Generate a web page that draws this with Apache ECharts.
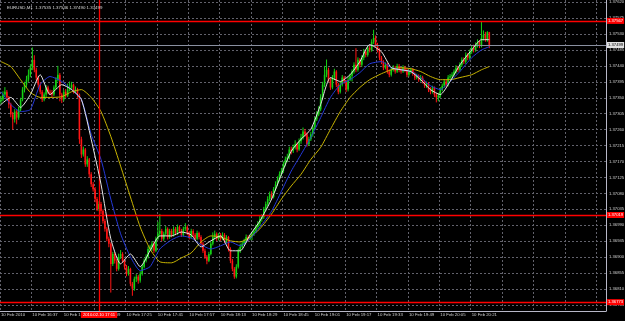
<!DOCTYPE html>
<html><head><meta charset="utf-8">
<script src="https://cdn.jsdelivr.net/npm/echarts@6/dist/echarts.min.js"></script>
<style>html,body{margin:0;padding:0;background:#000;}#c{width:625px;height:321px;}</style>
</head><body><div id="c"></div>
<script>
const symbolName = 'EURUSD,M1';
const timeLabels = ['10 Feb 2010','10 Feb 16:37','10 Feb 16:53','10 Feb 17:09','10 Feb 17:25','10 Feb 17:41','10 Feb 17:57','10 Feb 18:13','10 Feb 18:29','10 Feb 18:45','10 Feb 19:01','10 Feb 19:17','10 Feb 19:33','10 Feb 19:49','10 Feb 20:05','10 Feb 20:21'];
const priceTicks = [1.36765,1.36810,1.36855,1.36900,1.36945,1.36990,1.37035,1.37080,1.37125,1.37170,1.37215,1.37260,1.37305,1.37350,1.37395,1.37440,1.37485,1.37530,1.37575,1.37620];

const opens = [
1.37340,1.37345,1.37359,1.37367,1.37351,1.37331,1.37303,1.37289,1.37311,1.37294,
1.37317,1.37345,1.37373,1.37387,1.37401,1.37415,1.37435,1.37457,1.37429,1.37407,
1.37387,1.37367,1.37345,1.37359,1.37379,1.37367,1.37364,1.37359,1.37379,1.37401,
1.37415,1.37359,1.37345,1.37367,1.37356,1.37373,1.37379,1.37387,1.37367,1.37373,
1.37359,1.37233,1.37190,1.37204,1.37162,1.37176,1.37134,1.37106,1.37092,1.37064,
1.37036,1.37050,1.37030,1.37002,1.36980,1.36952,1.36938,1.36881,1.36909,1.36890,
1.36867,1.36901,1.36909,1.36890,1.36873,1.36853,1.36867,1.36825,1.36811,1.36839,
1.36845,1.36834,1.36853,1.36873,1.36890,1.36901,1.36923,1.36930,1.36938,1.36918,
1.36952,1.36966,1.36974,1.36952,1.36966,1.36980,1.36957,1.36974,1.36963,1.36980,
1.36968,1.36985,1.36974,1.36963,1.36980,1.36985,1.36968,1.36957,1.36974,1.36963,
1.36952,1.36968,1.36957,1.36938,1.36918,1.36901,1.36890,1.36909,1.36938,1.36957,
1.36966,1.36952,1.36963,1.36952,1.36963,1.36946,1.36957,1.36923,1.36890,1.36867,
1.36845,1.36873,1.36918,1.36929,1.36938,1.36946,1.36957,1.36952,1.36958,1.36966,
1.36974,1.36985,1.36994,1.37008,1.37013,1.37036,1.37050,1.37064,1.37078,1.37070,
1.37092,1.37106,1.37120,1.37134,1.37143,1.37162,1.37176,1.37182,1.37204,1.37199,
1.37210,1.37219,1.37204,1.37227,1.37238,1.37255,1.37247,1.37219,1.37233,1.37247,
1.37266,1.37289,1.37303,1.37317,1.37351,1.37387,1.37415,1.37429,1.37401,1.37379,
1.37407,1.37424,1.37387,1.37367,1.37387,1.37407,1.37396,1.37373,1.37401,1.37412,
1.37424,1.37443,1.37429,1.37457,1.37443,1.37463,1.37480,1.37471,1.37491,1.37485,
1.37508,1.37519,1.37499,1.37485,1.37463,1.37452,1.37435,1.37443,1.37424,1.37415,
1.37429,1.37435,1.37424,1.37440,1.37429,1.37424,1.37435,1.37429,1.37415,1.37424,
1.37429,1.37418,1.37407,1.37412,1.37401,1.37407,1.37396,1.37384,1.37390,1.37373,
1.37367,1.37379,1.37359,1.37351,1.37356,1.37373,1.37384,1.37396,1.37387,1.37407,
1.37411,1.37415,1.37424,1.37435,1.37429,1.37443,1.37457,1.37452,1.37471,1.37463,
1.37480,1.37491,1.37485,1.37499,1.37508,1.37497,1.37519,1.37528,1.37514,1.37535];

const highs = [
1.37355,1.37368,1.37380,1.37372,1.37355,1.37336,1.37310,1.37318,1.37315,1.37325,
1.37350,1.37380,1.37395,1.37412,1.37430,1.37445,1.37492,1.37470,1.37435,1.37412,
1.37393,1.37372,1.37365,1.37386,1.37384,1.37373,1.37372,1.37385,1.37408,1.37440,
1.37420,1.37364,1.37372,1.37375,1.37390,1.37396,1.37395,1.37390,1.37382,1.37378,
1.37362,1.37240,1.37212,1.37208,1.37185,1.37180,1.37140,1.37112,1.37098,1.37070,
1.37058,1.37056,1.37035,1.37008,1.36985,1.36958,1.36942,1.36915,1.36914,1.36895,
1.36910,1.36920,1.36914,1.36895,1.36878,1.36875,1.36870,1.36830,1.36845,1.36852,
1.36850,1.36860,1.36880,1.36896,1.36908,1.36930,1.36935,1.36945,1.36943,1.36958,
1.37000,1.37022,1.36980,1.36972,1.36988,1.36984,1.36980,1.36980,1.36987,1.36985,
1.36992,1.36990,1.36980,1.36986,1.36996,1.36990,1.36974,1.36980,1.36979,1.36968,
1.36975,1.36972,1.36962,1.36943,1.36924,1.36906,1.36915,1.36944,1.36970,1.36975,
1.36970,1.36968,1.36968,1.36970,1.36968,1.36962,1.36960,1.36928,1.36895,1.36872,
1.36880,1.36924,1.36938,1.36946,1.36952,1.36964,1.36962,1.36964,1.36972,1.36980,
1.36992,1.37002,1.37016,1.37022,1.37042,1.37057,1.37072,1.37085,1.37086,1.37098,
1.37114,1.37128,1.37142,1.37152,1.37170,1.37184,1.37192,1.37212,1.37212,1.37218,
1.37230,1.37224,1.37235,1.37248,1.37266,1.37262,1.37252,1.37240,1.37254,1.37272,
1.37296,1.37312,1.37326,1.37360,1.37395,1.37440,1.37458,1.37435,1.37406,1.37414,
1.37432,1.37428,1.37392,1.37394,1.37414,1.37412,1.37400,1.37408,1.37418,1.37430,
1.37450,1.37490,1.37464,1.37462,1.37470,1.37488,1.37486,1.37498,1.37500,1.37515,
1.37542,1.37526,1.37505,1.37490,1.37468,1.37456,1.37450,1.37448,1.37430,1.37436,
1.37442,1.37440,1.37446,1.37445,1.37435,1.37442,1.37440,1.37434,1.37430,1.37435,
1.37434,1.37422,1.37418,1.37416,1.37414,1.37412,1.37400,1.37396,1.37394,1.37380,
1.37384,1.37382,1.37364,1.37364,1.37380,1.37390,1.37402,1.37402,1.37414,1.37417,
1.37422,1.37430,1.37442,1.37440,1.37450,1.37464,1.37464,1.37478,1.37476,1.37486,
1.37498,1.37500,1.37506,1.37515,1.37512,1.37564,1.37540,1.37536,1.37538,1.37536];

const lows = [
1.37332,1.37340,1.37352,1.37345,1.37320,1.37295,1.37260,1.37280,1.37275,1.37288,
1.37312,1.37340,1.37365,1.37380,1.37395,1.37408,1.37428,1.37422,1.37400,1.37378,
1.37360,1.37338,1.37340,1.37352,1.37360,1.37358,1.37350,1.37355,1.37374,1.37396,
1.37340,1.37335,1.37340,1.37350,1.37352,1.37368,1.37372,1.37362,1.37363,1.37350,
1.37220,1.37180,1.37184,1.37155,1.37155,1.37125,1.37098,1.37085,1.37055,1.37030,
1.37030,1.37022,1.36995,1.36972,1.36945,1.36928,1.36800,1.36875,1.36882,1.36860,
1.36862,1.36895,1.36884,1.36865,1.36846,1.36848,1.36818,1.36791,1.36805,1.36830,
1.36825,1.36828,1.36848,1.36868,1.36885,1.36896,1.36918,1.36918,1.36912,1.36914,
1.36948,1.36958,1.36945,1.36946,1.36960,1.36950,1.36952,1.36956,1.36958,1.36962,
1.36963,1.36968,1.36957,1.36958,1.36974,1.36962,1.36950,1.36952,1.36957,1.36946,
1.36948,1.36950,1.36932,1.36912,1.36895,1.36880,1.36886,1.36905,1.36933,1.36950,
1.36946,1.36947,1.36946,1.36948,1.36940,1.36940,1.36916,1.36883,1.36860,1.36839,
1.36840,1.36868,1.36912,1.36924,1.36932,1.36940,1.36945,1.36948,1.36948,1.36960,
1.36968,1.36980,1.36988,1.37000,1.37008,1.37030,1.37044,1.37058,1.37062,1.37066,
1.37086,1.37100,1.37114,1.37128,1.37138,1.37156,1.37168,1.37176,1.37190,1.37194,
1.37204,1.37196,1.37200,1.37220,1.37232,1.37240,1.37212,1.37214,1.37228,1.37240,
1.37260,1.37284,1.37298,1.37312,1.37345,1.37380,1.37408,1.37395,1.37372,1.37374,
1.37400,1.37380,1.37360,1.37362,1.37382,1.37390,1.37366,1.37368,1.37397,1.37396,
1.37418,1.37422,1.37424,1.37436,1.37438,1.37456,1.37464,1.37466,1.37478,1.37480,
1.37502,1.37492,1.37478,1.37456,1.37445,1.37428,1.37430,1.37418,1.37408,1.37410,
1.37424,1.37418,1.37420,1.37422,1.37418,1.37420,1.37422,1.37408,1.37410,1.37418,
1.37412,1.37400,1.37402,1.37395,1.37396,1.37390,1.37378,1.37378,1.37366,1.37360,
1.37362,1.37352,1.37337,1.37340,1.37350,1.37368,1.37378,1.37380,1.37382,1.37402,
1.37400,1.37410,1.37418,1.37422,1.37424,1.37438,1.37445,1.37446,1.37456,1.37458,
1.37474,1.37478,1.37480,1.37492,1.37490,1.37492,1.37512,1.37508,1.37508,1.37490];

const closes = [
1.37345,1.37359,1.37367,1.37351,1.37331,1.37303,1.37289,1.37311,1.37294,1.37317,
1.37345,1.37373,1.37387,1.37401,1.37415,1.37435,1.37457,1.37429,1.37407,1.37387,
1.37367,1.37345,1.37359,1.37379,1.37367,1.37364,1.37359,1.37379,1.37401,1.37415,
1.37359,1.37345,1.37367,1.37356,1.37373,1.37379,1.37387,1.37367,1.37373,1.37359,
1.37233,1.37190,1.37204,1.37162,1.37176,1.37134,1.37106,1.37092,1.37064,1.37036,
1.37050,1.37030,1.37002,1.36980,1.36952,1.36938,1.36881,1.36909,1.36890,1.36867,
1.36901,1.36909,1.36890,1.36873,1.36853,1.36867,1.36825,1.36811,1.36839,1.36845,
1.36834,1.36853,1.36873,1.36890,1.36901,1.36923,1.36930,1.36938,1.36918,1.36952,
1.36966,1.36974,1.36952,1.36966,1.36980,1.36957,1.36974,1.36963,1.36980,1.36968,
1.36985,1.36974,1.36963,1.36980,1.36985,1.36968,1.36957,1.36974,1.36963,1.36952,
1.36968,1.36957,1.36938,1.36918,1.36901,1.36890,1.36909,1.36938,1.36957,1.36966,
1.36952,1.36963,1.36952,1.36963,1.36946,1.36957,1.36923,1.36890,1.36867,1.36845,
1.36873,1.36918,1.36929,1.36938,1.36946,1.36957,1.36952,1.36958,1.36966,1.36974,
1.36985,1.36994,1.37008,1.37013,1.37036,1.37050,1.37064,1.37078,1.37070,1.37092,
1.37106,1.37120,1.37134,1.37143,1.37162,1.37176,1.37182,1.37204,1.37199,1.37210,
1.37219,1.37204,1.37227,1.37238,1.37255,1.37247,1.37219,1.37233,1.37247,1.37266,
1.37289,1.37303,1.37317,1.37351,1.37387,1.37415,1.37429,1.37401,1.37379,1.37407,
1.37424,1.37387,1.37367,1.37387,1.37407,1.37396,1.37373,1.37401,1.37412,1.37424,
1.37443,1.37429,1.37457,1.37443,1.37463,1.37480,1.37471,1.37491,1.37485,1.37508,
1.37519,1.37499,1.37485,1.37463,1.37452,1.37435,1.37443,1.37424,1.37415,1.37429,
1.37435,1.37424,1.37440,1.37429,1.37424,1.37435,1.37429,1.37415,1.37424,1.37429,
1.37418,1.37407,1.37412,1.37401,1.37407,1.37396,1.37384,1.37390,1.37373,1.37367,
1.37379,1.37359,1.37351,1.37356,1.37373,1.37384,1.37396,1.37387,1.37407,1.37411,
1.37415,1.37424,1.37435,1.37429,1.37443,1.37457,1.37452,1.37471,1.37463,1.37480,
1.37491,1.37485,1.37499,1.37508,1.37497,1.37519,1.37528,1.37514,1.37535,1.37499];

// moving-average lines, read at these bar positions
const maBars = [0,5,10,15,20,25,31,36,41,46,51,56,61,66,71,76,81,87,92,97,102,107,112,117,122,127,132,138,143,148,153,158,163,168,173,178,183,188,194,199,204,209,214,219,224,229,234,240,245,249];
const maFast = [1.37331,1.37351,1.37323,1.37359,1.37415,1.37359,1.37387,1.37373,1.37345,1.37233,1.37106,1.36952,1.36881,1.36909,1.36873,1.36918,1.36960,1.36960,1.36971,1.36963,1.36929,1.36946,1.36960,1.36918,1.36918,1.36963,1.37002,1.37064,1.37134,1.37199,1.37233,1.37261,1.37331,1.37407,1.37396,1.37415,1.37452,1.37500,1.37480,1.37435,1.37429,1.37424,1.37401,1.37373,1.37359,1.37396,1.37443,1.37485,1.37514,1.37514];
const maMid = [1.37367,1.37331,1.37311,1.37317,1.37387,1.37410,1.37396,1.37373,1.37345,1.37247,1.37176,1.37064,1.36966,1.36901,1.36862,1.36873,1.36923,1.36949,1.36960,1.36954,1.36935,1.36923,1.36932,1.36943,1.36932,1.36952,1.36985,1.37030,1.37086,1.37143,1.37190,1.37238,1.37294,1.37351,1.37387,1.37401,1.37421,1.37446,1.37452,1.37435,1.37429,1.37424,1.37407,1.37384,1.37373,1.37396,1.37424,1.37463,1.37485,1.37494];
const maSlow = [1.37452,1.37438,1.37401,1.37365,1.37351,1.37351,1.37353,1.37367,1.37373,1.37351,1.37311,1.37241,1.37157,1.37070,1.36985,1.36923,1.36887,1.36884,1.36898,1.36912,1.36943,1.36960,1.36957,1.36946,1.36943,1.36957,1.36980,1.37022,1.37064,1.37101,1.37134,1.37176,1.37210,1.37261,1.37311,1.37351,1.37379,1.37401,1.37418,1.37429,1.37435,1.37432,1.37424,1.37410,1.37401,1.37401,1.37407,1.37415,1.37429,1.37438];

const redLevels = [1.37567, 1.37019, 1.36773];
const vLineBar = 50;
const vLineText = '2010.02.10 17:11';
const slotCount = 309;

const slots = [];
for (let i = 0; i < slotCount; i++) slots.push(String(i));
const candles = opens.map((o, i) => [i, o, closes[i], lows[i], highs[i]]);
const pairs = arr => arr.map((v, i) => [maBars[i], v]);
const last = opens.length - 1;
const header = symbolName + '  ' + [opens[last], highs[last], lows[last], closes[last]].map(v => v.toFixed(5)).join(' ');

const FONT = 'Liberation Sans';
const BULL = '#14d214', BEAR = '#ff1414';
const gridLine = { show: true, lineStyle: { color: '#62626c', type: [2, 2], width: 1 } };
const lblBase = { show: true, distance: 1, fontSize: 4.2, fontFamily: FONT };

function renderCandle(params, api) {
  const j = api.value(0), o = api.value(1), c = api.value(2), l = api.value(3), h = api.value(4);
  const po = api.coord([j, o]), pc = api.coord([j, c]), pl = api.coord([j, l]), ph = api.coord([j, h]);
  const x = po[0];
  const col = c >= o ? BULL : BEAR;
  const top = Math.min(po[1], pc[1]);
  const hgt = Math.max(1, Math.abs(po[1] - pc[1]));
  return {
    type: 'group',
    children: [
      { type: 'line', shape: { x1: x, y1: ph[1], x2: x, y2: pl[1] }, style: { stroke: col, lineWidth: 1 } },
      { type: 'rect', shape: { x: x - 0.8, y: top, width: 1.6, height: hgt }, style: { fill: col } }
    ]
  };
}

const chart = echarts.init(document.getElementById('c'), null, { renderer: 'canvas' });
chart.setOption({
  backgroundColor: '#000000',
  animation: false,
  title: { text: header, left: 2, top: 1, textStyle: { color: '#d8d8d8', fontSize: 4.4, fontWeight: 'normal', fontFamily: FONT } },
  grid: { left: 0, right: 19, top: 0, bottom: 10, containLabel: false, outerBoundsMode: 'none' },
  xAxis: {
    type: 'category', data: slots, boundaryGap: true,
    axisLine: { show: true, lineStyle: { color: '#b8b8c8', width: 1 } },
    axisTick: { show: false },
    axisLabel: { interval: 15, formatter: (v, i) => timeLabels[i / 16] || '', align: 'left', color: '#d0d0d0', fontSize: 4.3, margin: 2, fontFamily: FONT },
    splitLine: Object.assign({ interval: 15 }, gridLine)
  },
  yAxis: {
    type: 'value', position: 'right', scale: true, min: 1.36748, max: 1.37626,
    axisLine: { show: true, lineStyle: { color: '#b8b8c8', width: 1 } },
    axisTick: { show: false, customValues: priceTicks },
    axisLabel: { customValues: priceTicks, formatter: v => v.toFixed(5), color: '#d0d0d0', fontSize: 4.2, margin: 3, fontFamily: FONT },
    splitLine: gridLine
  },
  series: [
    {
      type: 'custom', data: candles, renderItem: renderCandle, clip: true, z: 2,
      encode: { x: 0, y: [1, 2, 3, 4] }
    },
    {
      type: 'line', data: pairs(maSlow), symbol: 'none', z: 3, lineStyle: { color: '#c8b400', width: 1 }, smooth: 0.2,
      markLine: {
        silent: true, symbol: ['none', 'none'], animation: false, precision: 5,
        data: [
          ...redLevels.map(v => ({ yAxis: v, lineStyle: { color: '#ff0000', width: 1.3, type: 'solid', opacity: 1 },
            label: Object.assign({ position: 'end', formatter: v.toFixed(5), color: '#ffffff', backgroundColor: '#ff0000', padding: [1, 1] }, lblBase) })),
          { yAxis: closes[last], lineStyle: { color: '#8a90a0', width: 1, type: 'solid', opacity: 1 },
            label: Object.assign({ position: 'end', formatter: closes[last].toFixed(5), color: '#000000', backgroundColor: '#e0e0e0', padding: [1, 1] }, lblBase) },
          { xAxis: vLineBar, lineStyle: { color: '#ff0000', width: 1.3, type: 'solid', opacity: 1 },
            label: Object.assign({ position: 'start', formatter: vLineText, color: '#ffffff', backgroundColor: '#ff0000', padding: [1, 2] }, lblBase) }
        ]
      }
    },
    { type: 'line', data: pairs(maMid), symbol: 'none', z: 4, lineStyle: { color: '#2438d8', width: 1 }, smooth: 0.2 },
    { type: 'line', data: pairs(maFast), symbol: 'none', z: 5, lineStyle: { color: '#e6e6e6', width: 1 }, smooth: 0.2 }
  ]
});
</script></body></html>
